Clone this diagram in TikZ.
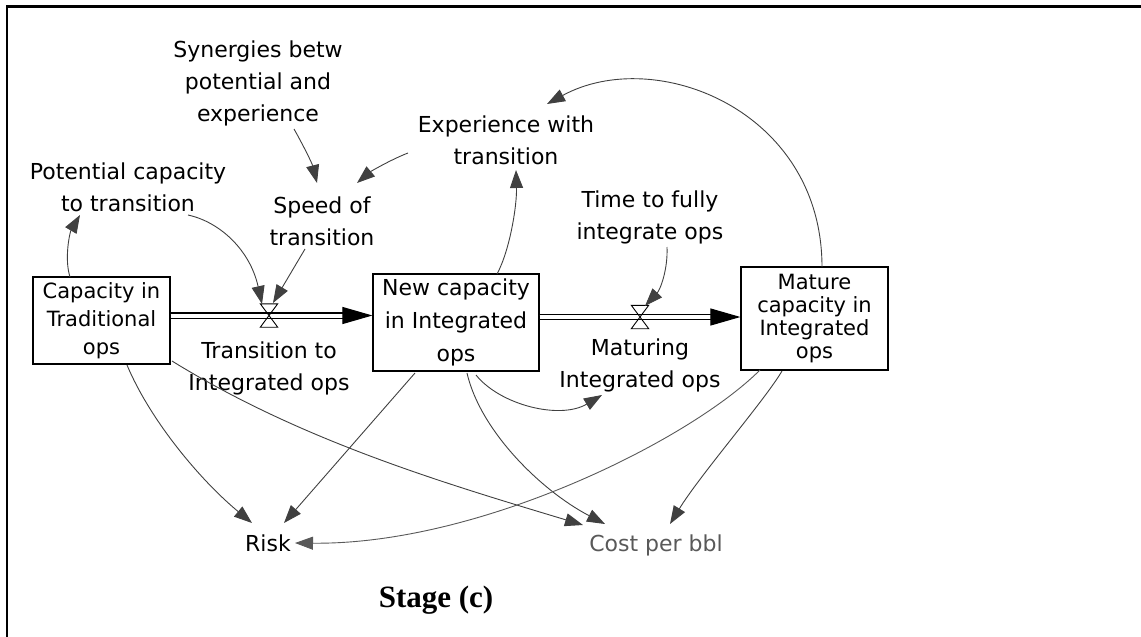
\documentclass[tikz,border=0pt]{standalone}
\usepackage{fontspec}
\setmainfont{DejaVu Sans}
\newfontfamily\stagefont{Liberation Serif}
\usetikzlibrary{arrows.meta}
\definecolor{linkgray}{gray}{0.25}
\definecolor{softgray}{gray}{0.35}
\begin{document}
\begin{tikzpicture}[x=1pt,y=-1pt,
  stock/.style={draw=black, line width=1.2pt, rectangle, inner sep=0pt, align=center},
  lbl/.style={align=center, inner sep=0pt, font=\fontsize{22}{32}\selectfont},
  link/.style={draw=linkgray, line width=0.9pt, -{Triangle[length=18pt,width=13pt]}},
  pipe/.style={draw=black, line width=1.1pt, double=white, double distance=4pt,
    -{Triangle[length=30pt,width=17pt]}},
  valve/.style={minimum width=17pt, minimum height=23pt, inner sep=0pt},
  valveline/.style={draw=black, line width=0.9pt, line join=miter}
]
\useasboundingbox (0,0) rectangle (1141,637);

% frame
\draw[line width=2.4pt] (7,645) -- (7,6.5) -- (1150,6.5);

% stocks
\node[stock, minimum width=137pt, minimum height=87pt,
      font=\fontsize{21}{28}\selectfont] (c1) at (101.5,320.5)
      {Capacity in\\Traditional\\ops};
\node[stock, minimum width=166pt, minimum height=97pt,
      font=\fontsize{22}{33}\selectfont] (c2) at (456,322.5)
      {New capacity\\in Integrated\\ops};
\node[stock, minimum width=147pt, minimum height=103pt,
      font=\fontsize{21}{23}\selectfont] (c3) at (814.5,318.5)
      {Mature\\capacity in\\Integrated\\ops};

% valves
\node[valve] (v1) at (269,315.5) {};
\node[valve] (v2) at (640,317) {};

% flows
\draw[pipe] (c1.east |- v1) -- (c2.west |- v1);
\draw[pipe] (c2.east |- v2) -- (c3.west |- v2);
\draw[valveline] (v1.north west) -- (v1.north east) -- (v1.south west) -- (v1.south east) -- cycle;
\draw[valveline] (v2.north west) -- (v2.north east) -- (v2.south west) -- (v2.south east) -- cycle;

% auxiliaries and flow names
\node[lbl] (syn) at (258,83) {Synergies betw\\potential and\\experience};
\node[lbl] (pot) at (128,187) {Potential capacity\\to transition};
\node[lbl] (spd) at (322,221) {Speed of\\transition};
\node[lbl] (exp) at (506,140) {Experience with\\transition};
\node[lbl] (tim) at (650,217) {Time to fully\\integrate ops};
\node[lbl] (tr) at (269,368) {Transition to\\Integrated ops};
\node[lbl] (mat) at (640,365) {Maturing\\Integrated ops};
\node[lbl] (risk) at (268,543) {Risk};
\node[lbl, text=softgray] (cost) at (656,545) {Cost per bbl};
\node[inner sep=0pt, font=\stagefont\bfseries\fontsize{31}{36}\selectfont] (stage) at (436,600) {Stage (c)};

% causal links
\draw[link] ([shift={(-31.5,-43.5)}]c1.center) .. controls (64,258) and (70,232) .. ([shift={(-48,28)}]pot.center);
\draw[link] ([shift={(60,28)}]pot.center) .. controls (220,222) and (250,250) .. ([shift={(-7,-11.5)}]v1.center);
\draw[link] ([shift={(-17,28)}]spd.center) -- ([shift={(4,-12.5)}]v1.center);
\draw[link] ([shift={(36,46)}]syn.center) .. controls (302,143) and (312,163) .. ([shift={(-5,-38)}]spd.center);
\draw[link] ([shift={(-98,13)}]exp.center) .. controls (390,160) and (370,172) .. ([shift={(35,-38)}]spd.center);
\draw[link] ([shift={(41,-48.5)}]c2.center) .. controls (510,250) and (517,205) .. ([shift={(10,30)}]exp.center);
\draw[link] ([shift={(7.5,-51.5)}]c3.center) .. controls (822,110) and (655,45) .. ([shift={(41,-36)}]exp.center);
\draw[link] ([shift={(17,30)}]tim.center) .. controls (668,270) and (660,290) .. ([shift={(5,-11)}]v2.center);
\draw[link] ([shift={(20,52.5)}]c2.center) .. controls (500,405) and (560,420) .. ([shift={(-38,30)}]mat.center);
\draw[link] ([shift={(25.5,44.5)}]c1.center) .. controls (150,420) and (200,480) .. ([shift={(-16,-20)}]risk.center);
\draw[link] ([shift={(70.5,40.5)}]c1.center) .. controls (300,440) and (440,482) .. ([shift={(-73,-20)}]cost.center);
\draw[link] ([shift={(-41,50.5)}]c2.center) -- ([shift={(16,-20)}]risk.center);
\draw[link] ([shift={(11,50.5)}]c2.center) .. controls (480,430) and (540,490) .. ([shift={(-51,-21)}]cost.center);
\draw[link, draw=softgray] ([shift={(-54.5,51.5)}]c3.center) .. controls (690,440) and (480,545) .. ([shift={(27,0)}]risk.center);
\draw[link] ([shift={(-32.5,52.5)}]c3.center) .. controls (765,400) and (700,475) .. ([shift={(14,-21)}]cost.center);
\end{tikzpicture}
\end{document}
